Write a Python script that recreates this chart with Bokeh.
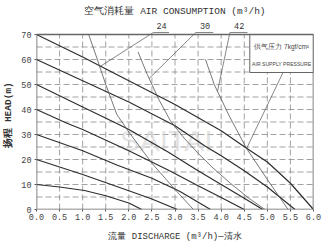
from bokeh.plotting import figure
from bokeh.models import FixedTicker, PrintfTickFormatter, Range1d
from bokeh.core.properties import value
from bokeh.embed import file_html
from bokeh.resources import INLINE

# ---- data ----
title_text = "空气消耗量 AIR CONSUMPTION (m³/h)"
x_label = "流量 DISCHARGE (m³/h)—清水"
y_label = "扬程 HEAD(m)"

x_ticks = [0.0, 0.5, 1.0, 1.5, 2.0, 2.5, 3.0, 3.5, 4.0, 4.5, 5.0, 5.5, 6.0]
y_ticks = [0, 10, 20, 30, 40, 50, 60, 70]
y_grid = [5, 10, 15, 20, 25, 30, 35, 40, 45, 50, 55, 60, 65]

# head-discharge curves at supply pressures 1..7 kgf/cm2
q_p70 = [0, 1, 2, 3, 4, 4.55, 5, 5.5, 6.0]
h_p70 = [70, 61, 51.5, 42, 31.5, 24.5, 19, 10.5, 0]
q_p60 = [0, 1, 2, 3, 3.64, 4, 4.5, 5, 5.6]
h_p60 = [60, 51.5, 43, 33.5, 25.5, 21.5, 15.5, 9, 0]
q_p50 = [0, 1, 1.74, 2, 2.85, 3.5, 4, 4.5, 4.9]
h_p50 = [50, 41, 34.4, 32, 23, 15.5, 10, 4.5, 0]
q_p40 = [0, 0.66, 1, 2, 2.85, 3.5, 4, 4.5]
h_p40 = [40, 34.5, 32, 23.5, 15.8, 9.5, 4.8, 0]
q_p30 = [0, 1, 1.74, 2.5, 3.1, 3.77]
h_p30 = [30, 23.5, 17.8, 12.5, 7.3, 0]
q_p20 = [0, 0.4, 1, 2, 2.5, 3.05]
h_p20 = [20, 17.6, 14, 7.5, 4.2, 0]
q_p10 = [0, 0.5, 1.04, 1.5, 2, 2.28]
h_p10 = [10, 9, 7.6, 5.5, 2.6, 0]

# air consumption curves
air_labels = ["24", "30", "42"]
q_a24 = [1.13, 1.3, 1.5, 1.74, 2.0, 2.5, 3.0, 3.4]
h_a24 = [70, 61, 50, 38, 31, 18.5, 8, 0]
q_a30 = [2.2, 2.4, 2.65, 2.9, 3.2, 3.5, 3.8, 4.2, 4.6, 4.95]
h_a30 = [63, 54, 44, 35.5, 28.5, 22.5, 17, 10.5, 4.5, 0]
q_a42 = [3.66, 3.85, 4.17, 4.55, 5.0, 5.45]
h_a42 = [60, 50, 37.6, 24.4, 12, 0]

# label anchors for air-consumption callouts
lab_x = [2.71, 3.65, 4.39]
lab_y = [72.4, 72.4, 72.4]
ul_x0 = [2.53, 3.45, 4.19]
ul_x1 = [2.87, 3.83, 4.57]
ul_y = [70.8, 70.8, 70.8]
lead_x1 = [1.36, 2.44, 3.92]
lead_y1 = [57, 52.4, 47.2]

box_line1 = "供气压力 7kgf/cm²"
box_line2 = "AIR SUPPLY PRESSURE"

# ---- figure ----
p = figure(width=325, height=250, x_range=Range1d(0, 6), y_range=Range1d(0, 75.6),
           output_backend="svg", toolbar_location=None,
           min_border_left=31, min_border_right=12, min_border_top=20, min_border_bottom=41)
p.outline_line_color = None
p.xgrid.visible = False
p.ygrid.visible = False
p.background_fill_color = "white"
p.border_fill_color = "white"

p.title.text = title_text
p.title.align = "center"
p.title.text_font = "Liberation Mono"
p.title.text_font_size = "9.5px"
p.title.text_font_style = "normal"
p.title.text_color = "#333333"
p.title.standoff = 7

mono = "Liberation Mono"

xa = p.xaxis[0]
xa.ticker = FixedTicker(ticks=x_ticks)
xa.formatter = PrintfTickFormatter(format="%.1f")
xa.axis_line_color = None
xa.major_tick_in = 0
xa.major_tick_out = 2
xa.major_tick_line_color = "#555555"
xa.minor_tick_line_color = None
xa.major_label_text_font = mono
xa.major_label_text_font_size = "8.5px"
xa.major_label_text_color = "#444444"
xa.major_label_standoff = 2
xa.axis_label = x_label
xa.axis_label_text_font = mono
xa.axis_label_text_font_size = "9px"
xa.axis_label_text_font_style = "normal"
xa.axis_label_text_color = "#333333"
xa.axis_label_standoff = 9

ya = p.yaxis[0]
ya.ticker = FixedTicker(ticks=y_ticks)
ya.bounds = (0, 70)
ya.axis_line_color = None
ya.major_tick_in = 0
ya.major_tick_out = 2
ya.major_tick_line_color = "#555555"
ya.minor_tick_line_color = None
ya.major_label_text_font = mono
ya.major_label_text_font_size = "8.5px"
ya.major_label_text_color = "#444444"
ya.major_label_standoff = 3
ya.axis_label = y_label
ya.axis_label_text_font = mono
ya.axis_label_text_font_size = "9.5px"
ya.axis_label_text_font_style = "bold"
ya.axis_label_text_color = "#333333"
ya.axis_label_standoff = 4

# dashed grid inside the chart box
gx = [t for t in x_ticks if 0 < t < 6]
p.segment(x0=gx, y0=[0] * len(gx), x1=gx, y1=[70] * len(gx),
          line_color="#8a8a8a", line_width=0.8, line_dash="6 3")
p.segment(x0=[0] * len(y_grid), y0=y_grid, x1=[6] * len(y_grid), y1=y_grid,
          line_color="#8a8a8a", line_width=0.8, line_dash="6 3")

# watermark
p.text(x=[2.81], y=[27.6], text=["SAITAI"], text_align="center", text_baseline="middle",
       text_font=value("Liberation Sans"), text_font_size=value("30px"),
       text_color="#d0d0d0", text_alpha=0.6)

# head curves
p.multi_line(xs=[q_p70, q_p60, q_p50, q_p40, q_p30, q_p20, q_p10],
             ys=[h_p70, h_p60, h_p50, h_p40, h_p30, h_p20, h_p10],
             line_color="#2e2e2e", line_width=1.2)

# air consumption curves
p.multi_line(xs=[q_a24, q_a30, q_a42], ys=[h_a24, h_a30, h_a42],
             line_color="#555555", line_width=0.8)

# callout leaders + underlines + labels
p.segment(x0=ul_x0, y0=ul_y, x1=lead_x1, y1=lead_y1, line_color="#555555", line_width=0.7)
p.segment(x0=ul_x0, y0=ul_y, x1=ul_x1, y1=ul_y, line_color="#555555", line_width=0.7)
p.text(x=lab_x, y=lab_y, text=air_labels, text_align="center", text_baseline="bottom",
       text_font=value(mono), text_font_size=value("8.5px"), text_color="#333333")

# air supply pressure box
p.quad(left=[4.62], right=[6.0], bottom=[54.8], top=[70], fill_color="white",
       line_color="#666666", line_width=1)
p.text(x=[5.31], y=[65.2], text=[box_line1], text_align="center",
       text_baseline="middle", text_font=value("Liberation Sans"),
       text_font_size=value("6.5px"), text_color="#444444")
p.text(x=[5.31], y=[58.4], text=[box_line2], text_align="center",
       text_baseline="middle", text_font=value("Liberation Sans"),
       text_font_size=value("5.1px"), text_color="#444444")
p.segment(x0=[5.34], y0=[54.8], x1=[4.55], y1=[24.4], line_color="#555555", line_width=0.7)

# chart frame
p.quad(left=[0], right=[6], bottom=[0], top=[70], fill_color=None,
       line_color="#666666", line_width=1.6)

open("out.html", "w").write(file_html(p, INLINE))
